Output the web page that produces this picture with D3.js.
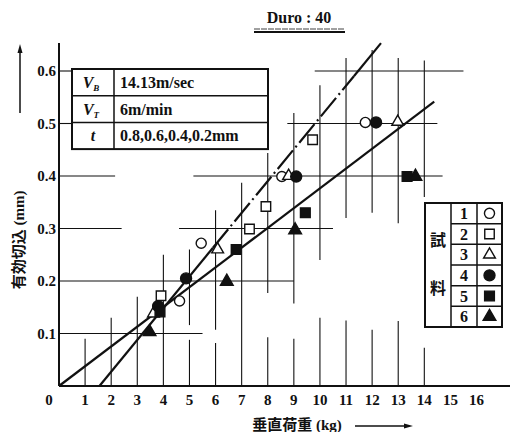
<!DOCTYPE html>
<html>
<head>
<meta charset="utf-8">
<script src="https://cdn.jsdelivr.net/npm/d3@7"></script>
<style>
  body { margin: 0; background: #fff; }
  text { font-family: "Liberation Serif", "Noto Sans CJK JP", serif; fill: #111; }
</style>
</head>
<body>
<div id="chart"></div>
<script>
// axis ticks
const xTicks = d3.range(0, 17);
const yTicks = [0.1, 0.2, 0.3, 0.4, 0.5, 0.6];

// samples 1..6 : [load kg, effective depth mm]
const sample1 = [[4.62, 0.162], [5.45, 0.272], [8.54, 0.399], [11.74, 0.502]];
const sample2 = [[3.91, 0.172], [7.3, 0.299], [7.93, 0.342], [9.72, 0.469]];
const sample3 = [[3.62, 0.138], [6.08, 0.26], [8.8, 0.4], [12.98, 0.503]];
const sample4 = [[3.8, 0.152], [4.87, 0.205], [9.09, 0.399], [12.15, 0.502]];
const sample5 = [[3.87, 0.141], [6.79, 0.26], [9.44, 0.33], [13.34, 0.399]];
const sample6 = [[3.47, 0.103], [6.43, 0.199], [9.05, 0.297], [13.66, 0.399]];

// fitted lines
const lineA = [[0, 0], [14.38, 0.5415]];
const lineB = [[1.55, 0], [12.34, 0.653]];
const lineBDashed = [5.9, 11.3]; // kg range drawn dash-dot

// partial grid: vertical [kg, mmFrom, mmTo], horizontal [mm, kgFrom, kgTo]
const vGrid = [
  [1, 0, 0.09], [2, 0, 0.13], [3, 0, 0.17], [4, 0, 0.25],
  [5, 0, 0.088], [5, 0.116, 0.26],
  [6, 0, 0.082], [6, 0.107, 0.335],
  [7, 0, 0.387],
  [8, 0, 0.093], [8, 0.177, 0.444],
  [9, 0, 0.09], [9, 0.157, 0.52],
  [10, 0, 0.13], [10, 0.24, 0.573],
  [11, 0, 0.125], [11, 0.32, 0.625],
  [12, 0, 0.107], [12, 0.33, 0.64],
  [13, 0, 0.124], [13, 0.31, 0.625],
  [14, 0, 0.073], [14, 0.36, 0.62]
];
const hGrid = [
  [0.1, 0, 5.5],
  [0.2, 0, 9.0],
  [0.3, 0, 2.4], [0.3, 4.6, 10.5],
  [0.4, 0, 2.15], [0.4, 5.15, 14.7],
  [0.5, 0, 0.5], [0.5, 8.75, 14.5],
  [0.6, 0, 0.5], [0.6, 9.8, 15.5]
];

const paramRows = [["V", "B", "14.13m/sec"], ["V", "T", "6m/min"], ["t", "", "0.8,0.6,0.4,0.2mm"]];
const legendIds = ["1", "2", "3", "4", "5", "6"];

const samples = [sample1, sample2, sample3, sample4, sample5, sample6];
const shapes = [
  { sym: d3.symbolCircle, size: 80, fill: false },
  { sym: d3.symbolSquare, size: 90, fill: false },
  { sym: d3.symbolTriangle, size: 60, fill: false },
  { sym: d3.symbolCircle, size: 95, fill: true },
  { sym: d3.symbolSquare, size: 95, fill: true },
  { sym: d3.symbolTriangle, size: 70, fill: true }
];

const W = 513, H = 432;
const svg = d3.select("#chart").append("svg").attr("width", W).attr("height", H);

const x = d3.scaleLinear().domain([0, 16]).range([59, 476.5]);
const y = d3.scaleLinear().domain([0, 0.6]).range([386, 71]);

const ink = "#111";

// grid
svg.append("g").selectAll("line").data(vGrid).enter().append("line")
  .attr("x1", d => x(d[0])).attr("x2", d => x(d[0]))
  .attr("y1", d => y(d[1])).attr("y2", d => y(d[2]))
  .attr("stroke", ink).attr("stroke-width", 1.1);
svg.append("g").selectAll("line").data(hGrid).enter().append("line")
  .attr("y1", d => y(d[0])).attr("y2", d => y(d[0]))
  .attr("x1", d => x(d[1])).attr("x2", d => x(d[2]))
  .attr("stroke", ink).attr("stroke-width", 1.1);

// axes
svg.append("line").attr("x1", x(0)).attr("x2", 510).attr("y1", y(0)).attr("y2", y(0))
  .attr("stroke", ink).attr("stroke-width", 2);
svg.append("line").attr("x1", x(0)).attr("x2", x(0)).attr("y1", y(0)).attr("y2", 43)
  .attr("stroke", ink).attr("stroke-width", 2);

svg.append("g").selectAll("text").data(xTicks).enter().append("text")
  .attr("x", d => d === 0 ? x(0) - 10 : x(d)).attr("y", 405)
  .attr("text-anchor", "middle").attr("font-size", 15).attr("font-weight", "bold")
  .text(d => d);
svg.append("g").selectAll("text").data(yTicks).enter().append("text")
  .attr("x", 56).attr("y", d => y(d) + 5)
  .attr("text-anchor", "end").attr("font-size", 15).attr("font-weight", "bold")
  .text(d => d.toFixed(1));

// axis titles and arrows
svg.append("text").attr("x", 297).attr("y", 430).attr("text-anchor", "middle")
  .attr("font-size", 15).attr("font-weight", "bold").text("垂直荷重 (kg)");
svg.append("line").attr("x1", 355).attr("x2", 408).attr("y1", 426).attr("y2", 426)
  .attr("stroke", ink).attr("stroke-width", 1.5);
svg.append("path").attr("d", "M413,426 L404,423.5 L404,428.5 Z").attr("fill", ink);

svg.append("text").attr("transform", "translate(24,240) rotate(-90)").attr("text-anchor", "middle")
  .attr("font-size", 15).attr("font-weight", "bold").text("有効切込 (mm)");
svg.append("line").attr("x1", 20).attr("x2", 20).attr("y1", 113).attr("y2", 50)
  .attr("stroke", ink).attr("stroke-width", 1.5);
svg.append("path").attr("d", "M20,44 L17.5,53 L22.5,53 Z").attr("fill", ink);

// title
svg.append("text").attr("x", 299).attr("y", 23).attr("text-anchor", "middle")
  .attr("font-size", 16).attr("font-weight", "bold").text("Duro : 40");
svg.append("line").attr("x1", 254).attr("x2", 345).attr("y1", 29).attr("y2", 29)
  .attr("stroke", ink).attr("stroke-width", 0.8).attr("stroke-dasharray", "6,1");
svg.append("line").attr("x1", 254).attr("x2", 345).attr("y1", 32).attr("y2", 32)
  .attr("stroke", ink).attr("stroke-width", 1.8);

// fitted lines
const line = d3.line().x(d => x(d[0])).y(d => y(d[1]));
svg.append("path").attr("d", line(lineA)).attr("fill", "none")
  .attr("stroke", ink).attr("stroke-width", 2.2);
const slopeB = (lineB[1][1] - lineB[0][1]) / (lineB[1][0] - lineB[0][0]);
const atB = k => [k, lineB[0][1] + slopeB * (k - lineB[0][0])];
const partsB = [
  { pts: [lineB[0], atB(lineBDashed[0])], dash: null },
  { pts: [atB(lineBDashed[0]), atB(lineBDashed[1])], dash: "24,4,2,4" },
  { pts: [atB(lineBDashed[1]), lineB[1]], dash: null }
];
svg.append("g").selectAll("path").data(partsB).enter().append("path")
  .attr("d", d => line(d.pts)).attr("fill", "none")
  .attr("stroke", ink).attr("stroke-width", 2.2)
  .attr("stroke-dasharray", d => d.dash);

// points
samples.forEach(function (pts, i) {
  const s = shapes[i];
  svg.append("g").selectAll("path").data(pts).enter().append("path")
    .attr("d", d3.symbol().type(s.sym).size(s.size))
    .attr("transform", d => "translate(" + x(d[0]) + "," + y(d[1]) + ")")
    .attr("fill", s.fill ? ink : "#fff")
    .attr("stroke", ink).attr("stroke-width", 1.4);
});

// parameter table
const tb = { x0: 72, x1: 268, xs: 114, y0: 69, rh: 26.7 };
const ptab = svg.append("g");
ptab.append("rect").attr("x", tb.x0).attr("y", tb.y0).attr("width", tb.x1 - tb.x0)
  .attr("height", tb.rh * paramRows.length).attr("fill", "#fff")
  .attr("stroke", ink).attr("stroke-width", 2);
ptab.append("line").attr("x1", tb.xs).attr("x2", tb.xs).attr("y1", tb.y0)
  .attr("y2", tb.y0 + tb.rh * paramRows.length).attr("stroke", ink).attr("stroke-width", 1.5);
paramRows.forEach(function (r, i) {
  const yy = tb.y0 + tb.rh * i;
  if (i > 0) ptab.append("line").attr("x1", tb.x0).attr("x2", tb.x1).attr("y1", yy).attr("y2", yy)
    .attr("stroke", ink).attr("stroke-width", 1.5);
  const sym = ptab.append("text").attr("x", (tb.x0 + tb.xs) / 2 + (r[1] ? -2 : 0)).attr("y", yy + 19)
    .attr("text-anchor", "middle").attr("font-size", 16).attr("font-weight", "bold")
    .attr("font-style", "italic");
  sym.append("tspan").text(r[0]);
  if (r[1]) sym.append("tspan").attr("font-size", 9).attr("dy", 3).text(r[1]);
  ptab.append("text").attr("x", 120).attr("y", yy + 19).attr("font-size", 16)
    .attr("font-weight", "bold").text(r[2]);
});

// sample legend
const lg = { x0: 425, x1: 502, xa: 451, xb: 477, y0: 203, y1: 327 };
const lrh = (lg.y1 - lg.y0) / legendIds.length;
const leg = svg.append("g");
leg.append("rect").attr("x", lg.x0).attr("y", lg.y0).attr("width", lg.x1 - lg.x0)
  .attr("height", lg.y1 - lg.y0).attr("fill", "#fff").attr("stroke", ink).attr("stroke-width", 2);
[lg.xa, lg.xb].forEach(xx => leg.append("line").attr("x1", xx).attr("x2", xx)
  .attr("y1", lg.y0).attr("y2", lg.y1).attr("stroke", ink).attr("stroke-width", 1.5));
legendIds.forEach(function (id, i) {
  const yy = lg.y0 + lrh * i;
  if (i > 0) leg.append("line").attr("x1", lg.xa).attr("x2", lg.x1).attr("y1", yy).attr("y2", yy)
    .attr("stroke", ink).attr("stroke-width", 1.5);
  leg.append("text").attr("x", (lg.xa + lg.xb) / 2).attr("y", yy + lrh / 2 + 5.5)
    .attr("text-anchor", "middle").attr("font-size", 16).attr("font-weight", "bold").text(id);
  const s = shapes[i];
  leg.append("path").attr("d", d3.symbol().type(s.sym).size(s.size))
    .attr("transform", "translate(" + (lg.xb + lg.x1) / 2 + "," + (yy + lrh / 2) + ")")
    .attr("fill", s.fill ? ink : "#fff").attr("stroke", ink).attr("stroke-width", 1.4);
});
leg.append("text").attr("x", (lg.x0 + lg.xa) / 2).attr("y", 246).attr("text-anchor", "middle")
  .attr("font-size", 16).attr("font-weight", "bold").text("試");
leg.append("text").attr("x", (lg.x0 + lg.xa) / 2).attr("y", 294).attr("text-anchor", "middle")
  .attr("font-size", 16).attr("font-weight", "bold").text("料");
</script>
</body>
</html>
